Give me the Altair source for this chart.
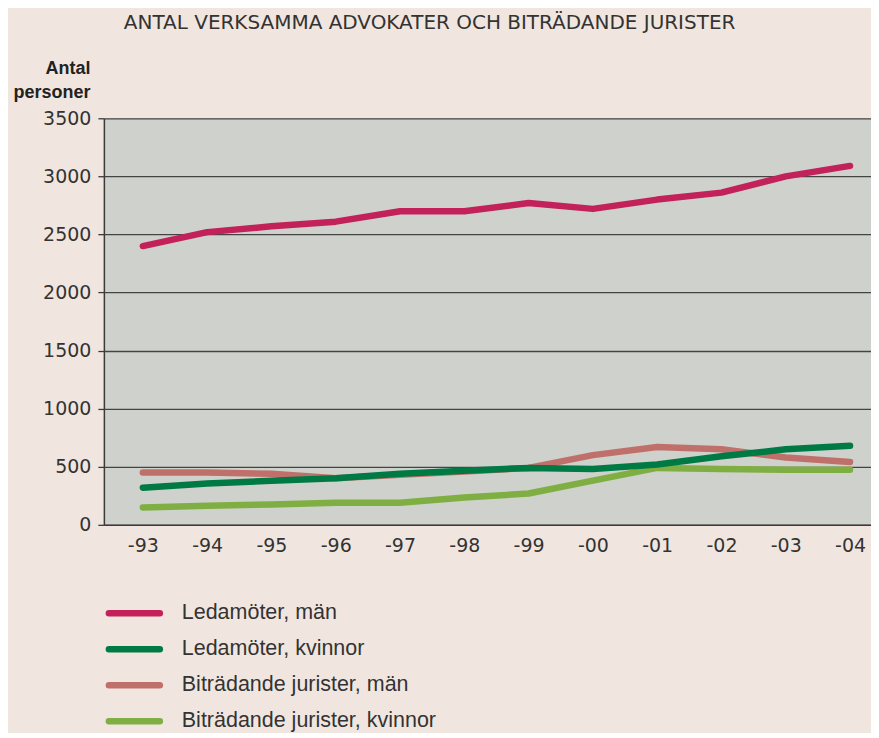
import altair as alt
import pandas as pd

years = [1993, 1994, 1995, 1996, 1997, 1998, 1999, 2000, 2001, 2002, 2003, 2004]
year_labels = ["-93", "-94", "-95", "-96", "-97", "-98", "-99", "-00", "-01", "-02", "-03", "-04"]
y_ticks = [0, 500, 1000, 1500, 2000, 2500, 3000, 3500]

series_names = [
    "Ledamöter, män",
    "Ledamöter, kvinnor",
    "Biträdande jurister, män",
    "Biträdande jurister, kvinnor",
]
series_colors = ["#C2215A", "#007A45", "#C0706A", "#7FAF42"]

led_man = [2400, 2520, 2570, 2610, 2700, 2700, 2770, 2720, 2800, 2860, 3000, 3090]
led_kvinnor = [320, 355, 380, 400, 440, 465, 490, 480, 520, 590, 650, 680]
bit_man = [450, 450, 440, 400, 430, 460, 490, 600, 670, 650, 580, 540]
bit_kvinnor = [150, 165, 175, 190, 190, 235, 270, 380, 490, 480, 475, 475]

values = [led_man, led_kvinnor, bit_man, bit_kvinnor]
draw_order = [2, 3, 1, 0]

rows = []
for i in draw_order:
    for y, v in zip(years, values[i]):
        rows.append({"year": y, "series": series_names[i], "value": v})
df = pd.DataFrame(rows)
legend_df = pd.DataFrame({"series": series_names, "row": list(range(len(series_names)))})

FONT = "Liberation Sans"
TICKFONT = "DejaVu Sans"
TXT = "#333333"

color_scale = alt.Scale(domain=series_names, range=series_colors)
label_expr = "[" + ",".join("'%s'" % s for s in year_labels) + "][datum.value - 1993]"

main = alt.Chart(df).mark_line(strokeWidth=6.5, strokeCap="round", strokeJoin="round").encode(
    x=alt.X(
        "year:Q",
        scale=alt.Scale(domain=[1992.394, 2004.326], nice=False, zero=False),
        axis=alt.Axis(
            values=years, labelExpr=label_expr, title=None, grid=False, ticks=False,
            domainColor="#3a3a3a", domainWidth=1.5, labelFontSize=19, labelColor=TXT,
            labelFont=TICKFONT, labelPadding=12,
        ),
    ),
    y=alt.Y(
        "value:Q",
        scale=alt.Scale(domain=[0, 3500], nice=False),
        axis=alt.Axis(
            values=y_ticks, format="d",
            title=["Antal", "personer"], titleAngle=0, titleAlign="right",
            titleBaseline="top", titleX=-14, titleY=-59, titleFont=FONT,
            titleFontSize=18, titleFontWeight="bold", titleColor="#222222",
            titleLineHeight=24,
            grid=True, gridColor="#444444", gridWidth=1.3,
            domainColor="#3a3a3a", domainWidth=1.5,
            tickColor="#3a3a3a", tickSize=6, tickWidth=1.3,
            labelFontSize=19, labelColor=TXT, labelFont=TICKFONT, labelPadding=7,
        ),
    ),
    color=alt.Color("series:N", scale=color_scale, legend=None),
).properties(width=768, height=407, view=alt.ViewBackground(fill="#CFD2CC", stroke=None))

legend_y = alt.Y(
    "row:Q", axis=None,
    scale=alt.Scale(domain=[-0.1, len(series_names) - 0.9], reverse=True, nice=False, zero=False),
)
leg_rule = alt.Chart(legend_df).mark_rule(strokeWidth=6.5, strokeCap="round").encode(
    x=alt.value(5), x2=alt.value(56), y=legend_y,
    color=alt.Color("series:N", scale=color_scale, legend=None),
)
leg_text = alt.Chart(legend_df).mark_text(
    align="left", baseline="middle", fontSize=21.5, font=FONT, color=TXT
).encode(x=alt.value(78), y=legend_y, text="series:N")
legend = alt.layer(leg_rule, leg_text).properties(
    width=768, height=115.2, view=alt.ViewBackground(fill=None, stroke=None)
)

chart = alt.vconcat(main, legend, spacing=46).properties(
    title=alt.TitleParams(
        "ANTAL VERKSAMMA ADVOKATER OCH BITRÄDANDE JURISTER",
        anchor="start", font=TICKFONT, fontSize=20, fontWeight="normal",
        color=TXT, offset=26, dx=111,
    ),
    background="#F1E6DF",
    padding={"left": 4, "top": 5, "right": 0, "bottom": 0},
).configure_view(stroke=None)

chart.save("out.html", embed_options={"renderer": "svg", "actions": False})
